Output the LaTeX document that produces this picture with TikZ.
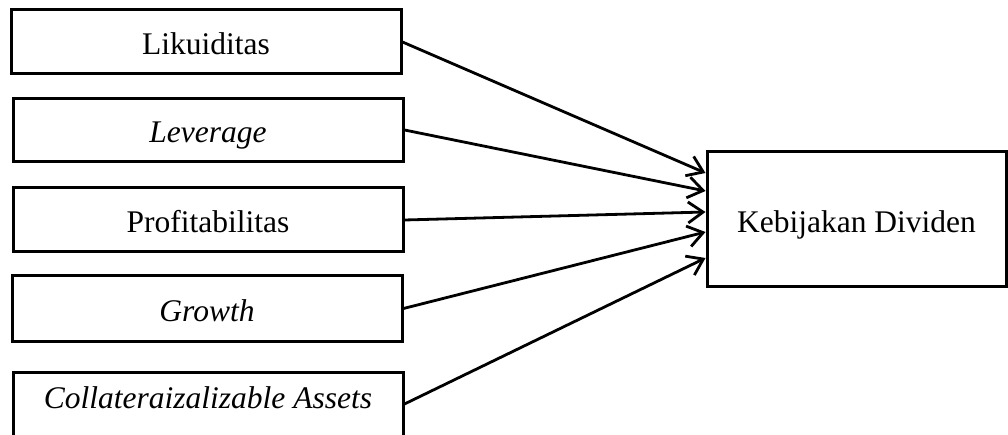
\documentclass[tikz,border=0pt]{standalone}
\usepackage{fontspec}
\setmainfont{Liberation Serif}
\usetikzlibrary{arrows.meta,calc}
\tikzset{
  box/.style={draw, line width=3pt, rectangle, inner sep=0pt, minimum width=390pt, minimum height=64pt, text height=30pt, text depth=4pt, font=\fontsize{31.5}{36}\selectfont},
  arr/.style={line width=2.8pt, -{Straight Barb[length=15pt,width=21pt,line width=2.8pt]}}
}
\begin{document}
\begin{tikzpicture}[x=1pt,y=-1pt]
\useasboundingbox (0,0) rectangle (1008,435);
\begin{scope}
\clip (0,0) rectangle (1008,435);
\node[box] (b1) at (206,42) {Likuiditas};
\node[box, minimum height=63pt] (b2) at (208,130) {\textit{Leverage}};
\node[box] (b3) at (208,220) {Profitabilitas};
\node[box, minimum height=65pt] (b4) at (207,308.5) {\textit{Growth}};
\node[box, text height=26pt, text depth=18pt] (b5) at (208,404) {\textit{Collateraizalizable Assets}};
\node[box, minimum width=299pt, minimum height=135pt] (k) at (856.5,219.5) {Kebijakan Dividen};
\draw[arr] (b1.east) -- ([yshift=46.5pt]k.west);
\draw[arr] (b2.east) -- ([yshift=28.5pt]k.west);
\draw[arr] (b3.east) -- ([yshift=7.5pt]k.west);
\draw[arr] (b4.east) -- ([yshift=-12.5pt]k.west);
\draw[arr] (b5.east) -- ([yshift=-38.5pt]k.west);
\end{scope}
\end{tikzpicture}
\end{document}
